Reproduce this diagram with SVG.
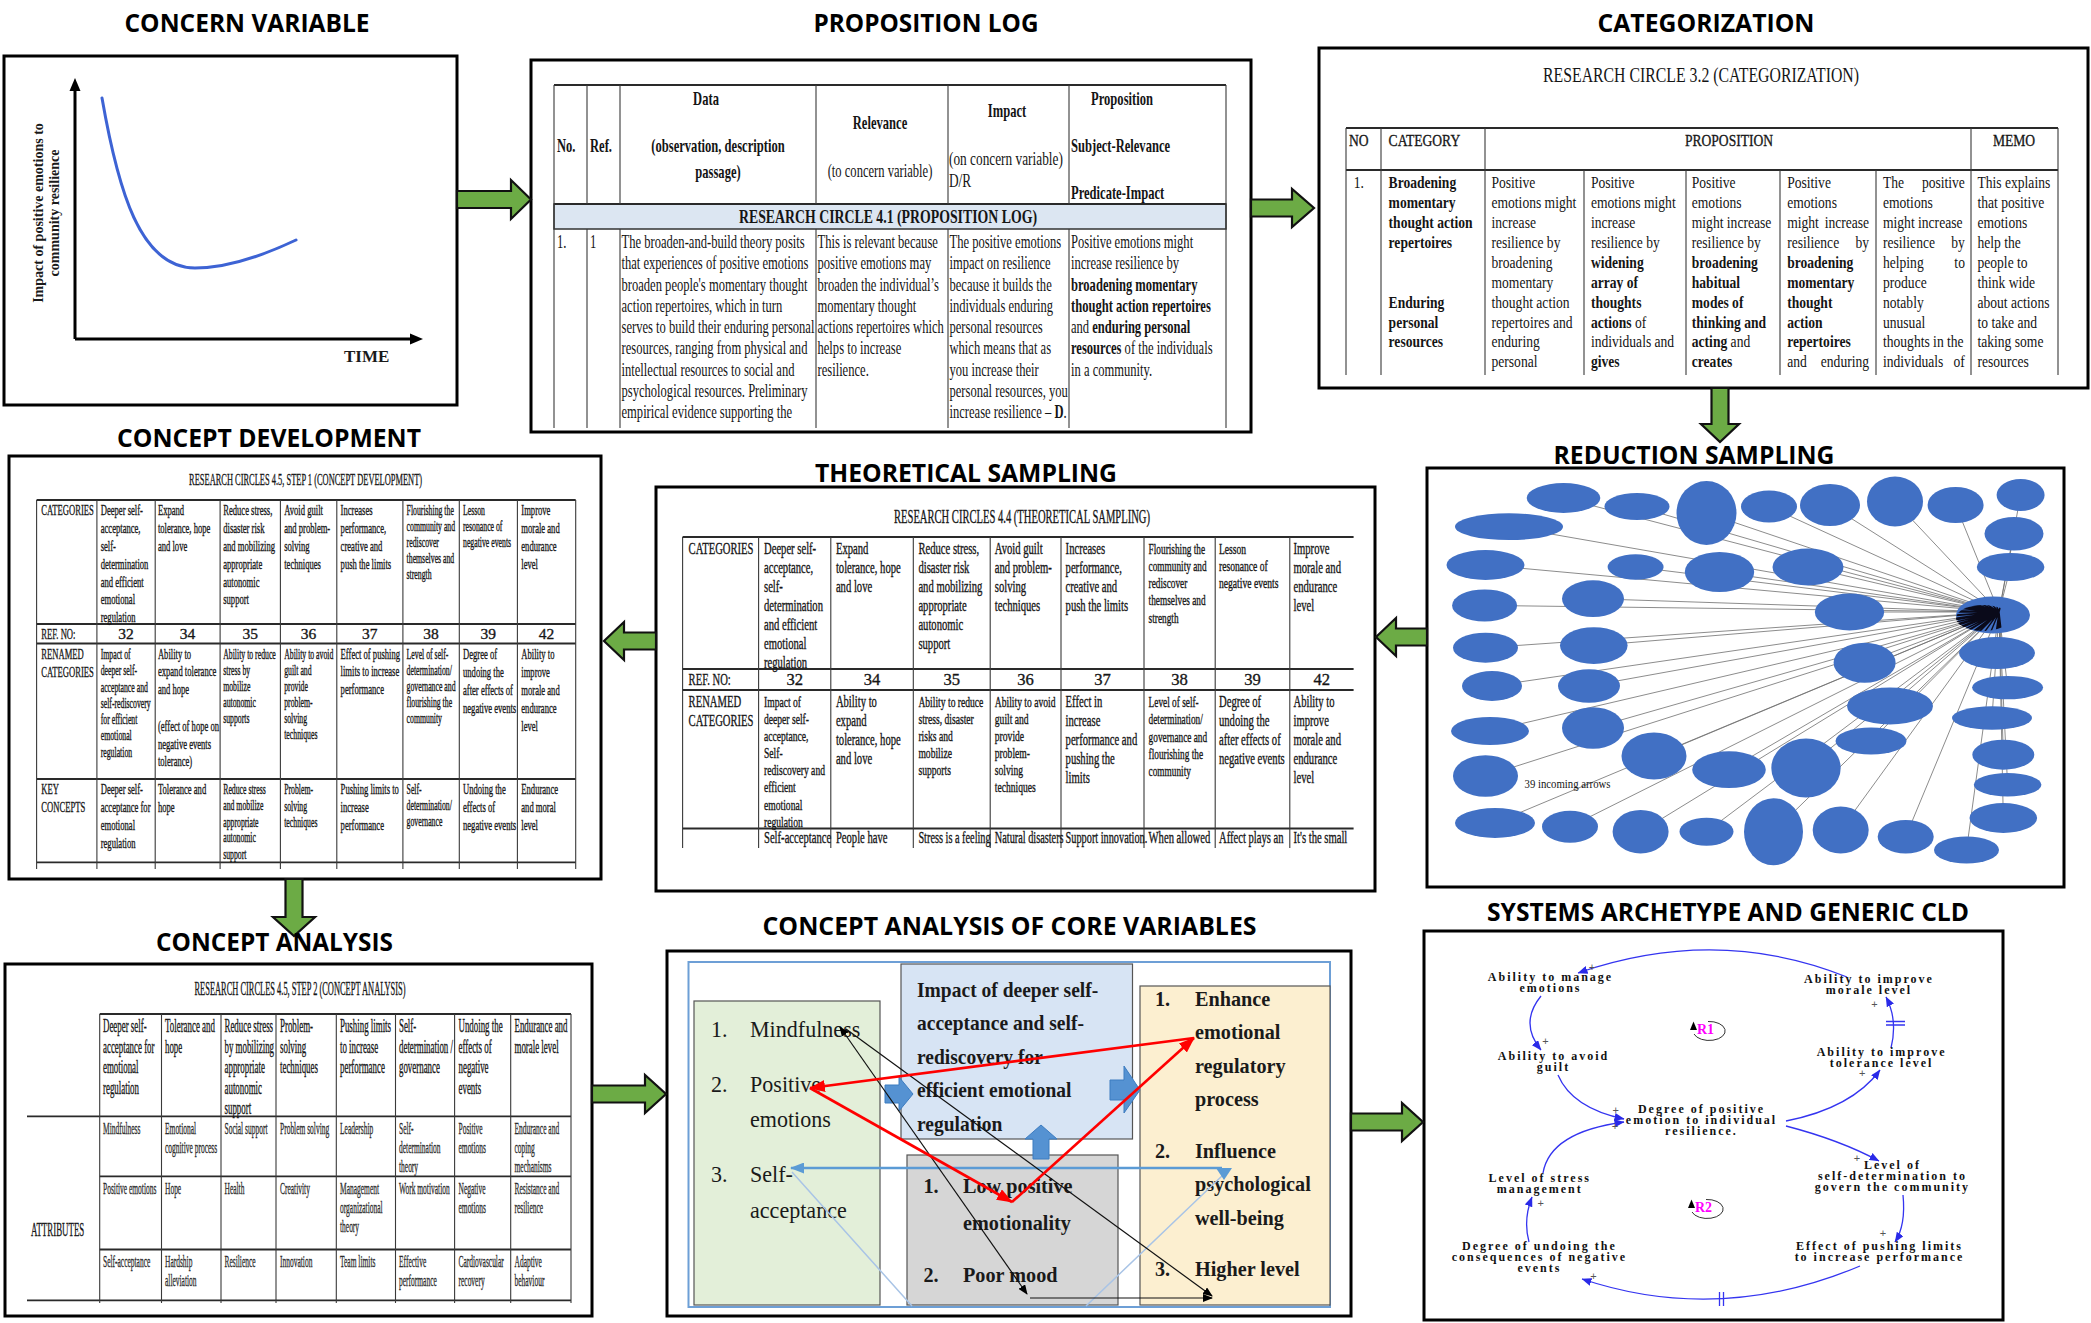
<svg xmlns="http://www.w3.org/2000/svg" width="2091" height="1323" viewBox="0 0 2091 1323">
<defs>
<style>
.frame{fill:#fff;stroke:#000;stroke-width:3}
.ttl{font-family:"Open Sans","Liberation Sans",sans-serif;font-weight:700;font-size:25px;fill:#000;text-anchor:middle}
.flow{fill:#6cab45;stroke:#111;stroke-width:2.2}
.g{stroke:#3a3a3a;stroke-width:1.1;fill:none}
.gb{stroke:#2a2a2a;stroke-width:1.8;fill:none}
.s{font-family:"Liberation Serif","Times New Roman",serif;fill:#151515}
.hv text{stroke:#1a1a1a;stroke-width:.35}
.b{font-weight:700}
.m{text-anchor:middle}
.p2{font-size:18.5px}
.p3{font-size:17.4px}
.p5{font-size:16.6px}
.p5s{font-size:15px}
.p6{font-size:15.5px}
.p6s{font-size:14px}
.p7{font-size:18.5px}
.p7a{font-size:17px;fill:#3c3c3c}
.oval{fill:#4170c4}
.cv{font-family:"Liberation Serif","Times New Roman",serif;fill:#1a1a1a}
.cld{font-family:"Liberation Serif","Times New Roman",serif;font-weight:700;font-size:12px;letter-spacing:2px;fill:#111;text-anchor:middle}
.lnk{fill:none;stroke:#3434f0;stroke-width:1.3}
.pl{font-family:"Liberation Sans",sans-serif;font-size:11px;fill:#555;text-anchor:middle}
.loop{font-family:"Liberation Serif",serif;font-weight:700;font-size:14px;fill:#ff00ff}
</style>
<marker id="mk-cld" viewBox="0 0 10 8" refX="9.5" refY="4" markerWidth="10" markerHeight="8" markerUnits="userSpaceOnUse" orient="auto"><path d="M0,0 L10,4 L0,8 Z" fill="#2a2ae8"/></marker>
<marker id="mk-red" viewBox="0 0 16 12" refX="15" refY="6" markerWidth="16" markerHeight="12" markerUnits="userSpaceOnUse" orient="auto"><path d="M0,0 L16,6 L0,12 Z" fill="#ff0000"/></marker>
<marker id="mk-blk" viewBox="0 0 10 8" refX="9" refY="4" markerWidth="10" markerHeight="8" markerUnits="userSpaceOnUse" orient="auto-start-reverse"><path d="M0,0 L10,4 L0,8 Z" fill="#000"/></marker>
<marker id="mk-lb" viewBox="0 0 14 11" refX="13" refY="5.5" markerWidth="14" markerHeight="11" markerUnits="userSpaceOnUse" orient="auto-start-reverse"><path d="M0,0 L14,5.5 L0,11 Z" fill="#5b9bd5"/></marker>
<clipPath id="net-clip"><rect x="1430" y="470" width="615" height="415"/></clipPath>
<clipPath id="hub-clip"><ellipse cx="1983" cy="618" rx="27" ry="13"/></clipPath>
<path id="spokeset" fill="none" d="M1563.5 498L1999 612M1637 506.5L1999 612M1706.5 513L1999 612M1769 506.5L1999 612M1830 505L1999 612M1895 501.5L1999 612M1955.6 505L1999 612M2020.6 495L1999 612M1509 526.7L1999 612M1485.5 565L1999 612M1635.6 567L1999 612M1719.5 572L1999 612M1808 567L1999 612M2014 533.8L1999 612M2010.6 567L1999 612M1484.6 605.4L1999 612M1593 598.7L1999 612M1849.5 612L1999 612M1485.5 647.7L1999 612M1593.8 645.6L1999 612M1864.6 662.7L1999 612M2002.4 654L1999 612M1492 686L1999 612M1589 686L1999 612M2007.6 687.6L1999 612M1890 706L1999 612M1490 731L1999 612M1593 728L1999 612M1992 718L1999 612M1871 741L1999 612M1654 756L1999 612M1729 769.7L1999 612M1806 768L1999 612M2003.3 754.7L1999 612M1485.5 776L1999 612M2007.6 784.8L1999 612M1495 823L1999 612M1570 826.7L1999 612M1640.6 831.7L1999 612M1706.5 831.7L1999 612M1773.5 831.7L1999 612M1840.7 830L1999 612M1905.7 836.7L1999 612M2003.3 818L1999 612M1966.5 850L1999 612"/>
</defs>

<rect width="2091" height="1323" fill="#fff"/>

<!-- Concern variable: behaviour-over-time sketch -->
<g id="concern-variable">
<rect class="frame" x="4" y="56" width="453" height="349"/>
<path d="M75,339 V88" stroke="#000" stroke-width="3"/>
<path d="M75,78 L69.5,91 H80.5 Z"/>
<path d="M75,339 H413" stroke="#000" stroke-width="3"/>
<path d="M423,339 L410,333.5 V344.5 Z"/>
<path d="M102,98 C118,190 140,268 195,268 C225,268 260,257 296,240" fill="none" stroke="#3d63d4" stroke-width="3" stroke-linecap="round"/>
<text class="cv b" font-size="14" text-anchor="middle" transform="translate(43,213) rotate(-90)">Impact of positive emotions to</text>
<text class="cv b" font-size="14" text-anchor="middle" transform="translate(59,213) rotate(-90)">community resilience</text>
<text class="cv b" font-size="17" x="344" y="362">TIME</text>
</g>

<!-- Proposition log table -->
<g id="proposition-log">
<rect class="frame" x="531" y="60" width="720" height="372"/>
<rect x="554" y="204" width="672" height="25" fill="#dce6f2" stroke="#333" stroke-width="1.5"/>
<path class="gb" d="M554,85 H1226 M554,204 H1226"/>
<path class="g" d="M554,85 V428 M587,85 V204 M620,85 V204 M816,85 V204 M948,85 V204 M1069,85 V204 M1226,85 V428 M587,229 V428 M620,229 V428 M816,229 V428 M948,229 V428 M1069,229 V428"/>
<text class="s b p2" transform="translate(557,152) scale(.68,1)">No.</text>
<text class="s b p2" transform="translate(590,152) scale(.68,1)">Ref.</text>
<text class="s b p2 m" transform="translate(706,105) scale(.68,1)">Data</text>
<text class="s b p2 m" transform="translate(718,152) scale(.68,1)"><tspan x="0" y="0">(observation, description</tspan><tspan x="0" y="26">passage)</tspan></text>
<text class="s b p2 m" transform="translate(880,129) scale(.68,1)">Relevance</text>
<text class="s p2 m" transform="translate(880,177) scale(.68,1)">(to concern variable)</text>
<text class="s b p2 m" transform="translate(1007,117) scale(.68,1)">Impact</text>
<text class="s p2" transform="translate(949,165) scale(.72,1)"><tspan x="0" y="0">(on concern variable)</tspan><tspan x="0" y="22">D/R</tspan></text>
<text class="s b p2 m" transform="translate(1122,105) scale(.68,1)">Proposition</text>
<text class="s b p2" transform="translate(1071,152) scale(.68,1)"><tspan x="0" y="0">Subject-Relevance</tspan><tspan x="0" y="47">Predicate-Impact</tspan></text>
<text class="s b p2 m" x="888" y="223" textLength="298" lengthAdjust="spacingAndGlyphs">RESEARCH CIRCLE 4.1 (PROPOSITION LOG)</text>
<text class="s p2" transform="translate(557,248) scale(.68,1)">1.</text>
<text class="s p2" transform="translate(590,248) scale(.68,1)">1</text>
<text class="s p2" transform="translate(621.5,248) scale(.68,1)"><tspan x="0" y="0">The broaden-and-build theory posits</tspan><tspan x="0" y="21.3">that experiences of positive emotions</tspan><tspan x="0" y="42.6">broaden people's momentary thought</tspan><tspan x="0" y="63.9">action repertoires, which in turn</tspan><tspan x="0" y="85.2">serves to build their enduring personal</tspan><tspan x="0" y="106.5">resources, ranging from physical and</tspan><tspan x="0" y="127.8">intellectual resources to social and</tspan><tspan x="0" y="149.1">psychological resources. Preliminary</tspan><tspan x="0" y="170.4">empirical evidence supporting the</tspan></text>
<text class="s p2" transform="translate(817.5,248) scale(.68,1)"><tspan x="0" y="0">This is relevant because</tspan><tspan x="0" y="21.3">positive emotions may</tspan><tspan x="0" y="42.6">broaden the individual’s</tspan><tspan x="0" y="63.9">momentary thought</tspan><tspan x="0" y="85.2">actions repertoires which</tspan><tspan x="0" y="106.5">helps to increase</tspan><tspan x="0" y="127.8">resilience.</tspan></text>
<text class="s p2" transform="translate(949.5,248) scale(.68,1)"><tspan x="0" y="0">The positive emotions</tspan><tspan x="0" y="21.3">impact on resilience</tspan><tspan x="0" y="42.6">because it builds the</tspan><tspan x="0" y="63.9">individuals enduring</tspan><tspan x="0" y="85.2">personal resources</tspan><tspan x="0" y="106.5">which means that as</tspan><tspan x="0" y="127.8">you increase their</tspan><tspan x="0" y="149.1">personal resources, you</tspan><tspan x="0" y="170.4">increase resilience – <tspan class="b">D</tspan>.</tspan></text>
<text class="s p2" transform="translate(1071,248) scale(.68,1)"><tspan x="0" y="0">Positive emotions might</tspan><tspan x="0" y="21.3">increase resilience by</tspan><tspan x="0" y="42.6" class="b">broadening momentary</tspan><tspan x="0" y="63.9" class="b">thought action repertoires</tspan><tspan x="0" y="85.2">and <tspan class="b">enduring personal</tspan></tspan><tspan x="0" y="106.5"><tspan class="b">resources</tspan> of the individuals</tspan><tspan x="0" y="127.8">in a community.</tspan></text>
</g>

<!-- Categorization table -->
<g id="categorization">
<rect class="frame" x="1319" y="48" width="769" height="340"/>
<text class="s m" font-size="21" x="1701" y="82" textLength="316" lengthAdjust="spacingAndGlyphs">RESEARCH CIRCLE 3.2 (CATEGORIZATION)</text>
<path class="gb" d="M1346,128 H2058 M1346,170 H2058"/>
<path class="g" d="M1346,128 V375 M1381,128 V375 M1485,128 V375 M1971,128 V375 M2058,128 V375 M1584,170 V375 M1686,170 V375 M1780,170 V375 M1876,170 V375"/>
<g class="hv">
<text class="s p3" transform="translate(1349,146) scale(.78,1)">NO</text>
<text class="s p3" transform="translate(1388.6,146) scale(.78,1)">CATEGORY</text>
<text class="s p3 m" transform="translate(1729,146) scale(.78,1)">PROPOSITION</text>
<text class="s p3 m" transform="translate(2014,146) scale(.78,1)">MEMO</text>
</g>
<text class="s p3" transform="translate(1353.8,188) scale(.78,1)">1.</text>
<text class="s p3 b" transform="translate(1388.6,188) scale(.78,1)"><tspan x="0" y="0">Broadening</tspan><tspan x="0" y="19.9">momentary</tspan><tspan x="0" y="39.9">thought action</tspan><tspan x="0" y="59.8">repertoires</tspan><tspan x="0" y="119.6">Enduring</tspan><tspan x="0" y="139.6">personal</tspan><tspan x="0" y="159.5">resources</tspan></text>
<text class="s p3" transform="translate(1491.5,188) scale(.78,1)"><tspan x="0" y="0">Positive</tspan><tspan x="0" y="19.9">emotions might</tspan><tspan x="0" y="39.9">increase</tspan><tspan x="0" y="59.8">resilience by</tspan><tspan x="0" y="79.8">broadening</tspan><tspan x="0" y="99.7">momentary</tspan><tspan x="0" y="119.6">thought action</tspan><tspan x="0" y="139.6">repertoires and</tspan><tspan x="0" y="159.5">enduring</tspan><tspan x="0" y="179.5">personal</tspan></text>
<text class="s p3" transform="translate(1590.9,188) scale(.78,1)"><tspan x="0" y="0">Positive</tspan><tspan x="0" y="19.9">emotions might</tspan><tspan x="0" y="39.9">increase</tspan><tspan x="0" y="59.8">resilience by</tspan><tspan x="0" y="79.8" class="b">widening</tspan><tspan x="0" y="99.7" class="b">array of</tspan><tspan x="0" y="119.6" class="b">thoughts</tspan><tspan x="0" y="139.6"><tspan class="b">actions</tspan> of</tspan><tspan x="0" y="159.5">individuals and</tspan><tspan x="0" y="179.5" class="b">gives</tspan></text>
<text class="s p3" transform="translate(1691.8,188) scale(.78,1)"><tspan x="0" y="0">Positive</tspan><tspan x="0" y="19.9">emotions</tspan><tspan x="0" y="39.9">might increase</tspan><tspan x="0" y="59.8">resilience by</tspan><tspan x="0" y="79.8" class="b">broadening</tspan><tspan x="0" y="99.7" class="b">habitual</tspan><tspan x="0" y="119.6" class="b">modes of</tspan><tspan x="0" y="139.6" class="b">thinking and</tspan><tspan x="0" y="159.5"><tspan class="b">acting</tspan> and</tspan><tspan x="0" y="179.5" class="b">creates</tspan></text>
<text class="s p3" transform="translate(1787.2,188) scale(.78,1)"><tspan x="0" y="0">Positive</tspan><tspan x="0" y="19.9">emotions</tspan><tspan x="0" y="39.9">might</tspan><tspan x="48" y="39.9">increase</tspan><tspan x="0" y="59.8">resilience</tspan><tspan x="87.6" y="59.8">by</tspan><tspan x="0" y="79.8" class="b">broadening</tspan><tspan x="0" y="99.7" class="b">momentary</tspan><tspan x="0" y="119.6" class="b">thought</tspan><tspan x="0" y="139.6" class="b">action</tspan><tspan x="0" y="159.5" class="b">repertoires</tspan><tspan x="0" y="179.5">and</tspan><tspan x="43.1" y="179.5">enduring</tspan></text>
<text class="s p3" transform="translate(1883,188) scale(.78,1)"><tspan x="0" y="0">The</tspan><tspan x="49.9" y="0">positive</tspan><tspan x="0" y="19.9">emotions</tspan><tspan x="0" y="39.9">might increase</tspan><tspan x="0" y="59.8">resilience</tspan><tspan x="87.6" y="59.8">by</tspan><tspan x="0" y="79.8">helping</tspan><tspan x="91.5" y="79.8">to</tspan><tspan x="0" y="99.7">produce</tspan><tspan x="0" y="119.6">notably</tspan><tspan x="0" y="139.6">unusual</tspan><tspan x="0" y="159.5">thoughts in the</tspan><tspan x="0" y="179.5">individuals</tspan><tspan x="90.5" y="179.5">of</tspan></text>
<text class="s p3" transform="translate(1977.5,188) scale(.78,1)"><tspan x="0" y="0">This explains</tspan><tspan x="0" y="19.9">that positive</tspan><tspan x="0" y="39.9">emotions</tspan><tspan x="0" y="59.8">help the</tspan><tspan x="0" y="79.8">people to</tspan><tspan x="0" y="99.7">think wide</tspan><tspan x="0" y="119.6">about actions</tspan><tspan x="0" y="139.6">to take and</tspan><tspan x="0" y="159.5">taking some</tspan><tspan x="0" y="179.5">resources</tspan></text>
</g>

<!-- Reduction sampling network -->
<g id="reduction-sampling">
<rect class="frame" x="1427" y="468" width="637" height="419"/>
<g clip-path="url(#net-clip)">
<use href="#spokeset" stroke="#6e6e6e" stroke-width=".8"/>
<g class="oval">
<ellipse cx="1563.5" cy="498" rx="36.8" ry="15"/>
<ellipse cx="1637" cy="506.5" rx="32.5" ry="13.4"/>
<ellipse cx="1706.5" cy="513" rx="30" ry="32"/>
<ellipse cx="1769" cy="506.5" rx="28" ry="16"/>
<ellipse cx="1830" cy="505" rx="30" ry="21"/>
<ellipse cx="1895" cy="501.5" rx="28" ry="25"/>
<ellipse cx="1955.6" cy="505" rx="28" ry="18"/>
<ellipse cx="2020.6" cy="495" rx="24" ry="16"/>
<ellipse cx="1509" cy="526.7" rx="54" ry="13.4"/>
<ellipse cx="1485.5" cy="565" rx="39" ry="15"/>
<ellipse cx="1635.6" cy="567" rx="28" ry="12.7"/>
<ellipse cx="1719.5" cy="572" rx="34.7" ry="20"/>
<ellipse cx="1808" cy="567" rx="35.5" ry="18.4"/>
<ellipse cx="2014" cy="533.8" rx="29.5" ry="16.8"/>
<ellipse cx="2010.6" cy="567" rx="33.8" ry="14"/>
<ellipse cx="1484.6" cy="605.4" rx="32.5" ry="16"/>
<ellipse cx="1593" cy="598.7" rx="31" ry="18.4"/>
<ellipse cx="1849.5" cy="612" rx="34.7" ry="18.4"/>
<ellipse cx="1993" cy="615" rx="37" ry="18.4"/>
<ellipse cx="1485.5" cy="647.7" rx="32.5" ry="15"/>
<ellipse cx="1593.8" cy="645.6" rx="33.8" ry="18.4"/>
<ellipse cx="1864.6" cy="662.7" rx="31" ry="20"/>
<ellipse cx="1997" cy="653" rx="38" ry="16"/>
<ellipse cx="1492" cy="686" rx="30" ry="15"/>
<ellipse cx="1589" cy="686" rx="31" ry="16.8"/>
<ellipse cx="2007.6" cy="687.6" rx="35.5" ry="11.7"/>
<ellipse cx="1890" cy="706" rx="43" ry="18.4"/>
<ellipse cx="1490" cy="731" rx="39" ry="14"/>
<ellipse cx="1593" cy="728" rx="31" ry="20.8"/>
<ellipse cx="1992" cy="718" rx="40" ry="11.7"/>
<ellipse cx="1871" cy="741" rx="35.5" ry="13.4"/>
<ellipse cx="1654" cy="756" rx="32.5" ry="23.5"/>
<ellipse cx="1729" cy="769.7" rx="36.8" ry="18.4"/>
<ellipse cx="1806" cy="768" rx="34.7" ry="29.5"/>
<ellipse cx="2003.3" cy="754.7" rx="31" ry="15"/>
<ellipse cx="1485.5" cy="776" rx="32.5" ry="20.8"/>
<ellipse cx="2007.6" cy="784.8" rx="33.8" ry="11.7"/>
<ellipse cx="1495" cy="823" rx="40" ry="15"/>
<ellipse cx="1570" cy="826.7" rx="28" ry="16"/>
<ellipse cx="1640.6" cy="831.7" rx="28" ry="21.8"/>
<ellipse cx="1706.5" cy="831.7" rx="27" ry="14"/>
<ellipse cx="1773.5" cy="831.7" rx="29.5" ry="33.5"/>
<ellipse cx="1840.7" cy="830" rx="28" ry="23.5"/>
<ellipse cx="1905.7" cy="836.7" rx="28" ry="16.8"/>
<ellipse cx="2003.3" cy="818" rx="33.8" ry="15"/>
<ellipse cx="1966.5" cy="850" rx="32.5" ry="13.4"/>
</g>
<use href="#spokeset" stroke="#0a0a1a" stroke-width="1.4" clip-path="url(#hub-clip)"/>
</g>
<text class="s" font-size="12" x="1524.5" y="788" textLength="86" lengthAdjust="spacingAndGlyphs">39 incoming arrows</text>
</g>

<!-- Theoretical sampling table -->
<g id="theoretical-sampling" class="hv">
<rect class="frame" x="656" y="487" width="719" height="404"/>
<text class="s m" font-size="19" x="1022" y="523" textLength="256" lengthAdjust="spacingAndGlyphs">RESEARCH CIRCLES 4.4 (THEORETICAL SAMPLING)</text>
<path class="gb" d="M682.6,537 H1353.6 M682.6,669 H1353.6 M682.6,690 H1353.6 M682.6,828.5 H1353.6"/>
<path class="g" d="M682.6,537 V848 M758.6,537 V848 M830.8,537 V848 M913.3,537 V848 M990.2,537 V848 M1061,537 V848 M1144,537 V848 M1215.2,537 V848 M1289.8,537 V848"/>
<text class="s p5" transform="translate(688.6,553.5) scale(.64,1)">CATEGORIES</text>
<text class="s p5" transform="translate(764,553.5) scale(.64,1)"><tspan x="0" y="0">Deeper self-</tspan><tspan x="0" y="19.1">acceptance,</tspan><tspan x="0" y="38.2">self-</tspan><tspan x="0" y="57.3">determination</tspan><tspan x="0" y="76.4">and efficient</tspan><tspan x="0" y="95.5">emotional</tspan><tspan x="0" y="114.6">regulation</tspan></text>
<text class="s p5" transform="translate(835.9,553.5) scale(.64,1)"><tspan x="0" y="0">Expand</tspan><tspan x="0" y="19.1">tolerance, hope</tspan><tspan x="0" y="38.2">and love</tspan></text>
<text class="s p5" transform="translate(918.4,553.5) scale(.64,1)"><tspan x="0" y="0">Reduce stress,</tspan><tspan x="0" y="19.1">disaster risk</tspan><tspan x="0" y="38.2">and mobilizing</tspan><tspan x="0" y="57.3">appropriate</tspan><tspan x="0" y="76.4">autonomic</tspan><tspan x="0" y="95.5">support</tspan></text>
<text class="s p5" transform="translate(994.8,553.5) scale(.64,1)"><tspan x="0" y="0">Avoid guilt</tspan><tspan x="0" y="19.1">and problem-</tspan><tspan x="0" y="38.2">solving</tspan><tspan x="0" y="57.3">techniques</tspan></text>
<text class="s p5" transform="translate(1065.6,553.5) scale(.64,1)"><tspan x="0" y="0">Increases</tspan><tspan x="0" y="19.1">performance,</tspan><tspan x="0" y="38.2">creative and</tspan><tspan x="0" y="57.3">push the limits</tspan></text>
<text class="s p5s" transform="translate(1148.6,553.5) scale(.62,1)"><tspan x="0" y="0">Flourishing the</tspan><tspan x="0" y="17.3">community and</tspan><tspan x="0" y="34.6">rediscover</tspan><tspan x="0" y="51.9">themselves and</tspan><tspan x="0" y="69.2">strength</tspan></text>
<text class="s p5s" transform="translate(1219,553.5) scale(.64,1)"><tspan x="0" y="0">Lesson</tspan><tspan x="0" y="17.3">resonance of</tspan><tspan x="0" y="34.6">negative events</tspan></text>
<text class="s p5" transform="translate(1293.5,553.5) scale(.64,1)"><tspan x="0" y="0">Improve</tspan><tspan x="0" y="19.1">morale and</tspan><tspan x="0" y="38.2">endurance</tspan><tspan x="0" y="57.3">level</tspan></text>
<text class="s p5" transform="translate(688.6,684.5) scale(.64,1)">REF. NO:</text>
<g class="s p5 m">
<text x="794.7" y="684.5">32</text><text x="872" y="684.5">34</text><text x="951.7" y="684.5">35</text><text x="1025.6" y="684.5">36</text><text x="1102.5" y="684.5">37</text><text x="1179.6" y="684.5">38</text><text x="1252.5" y="684.5">39</text><text x="1321.7" y="684.5">42</text>
</g>
<text class="s p5" transform="translate(688.6,707) scale(.64,1)"><tspan x="0" y="0">RENAMED</tspan><tspan x="0" y="19.1">CATEGORIES</tspan></text>
<text class="s p5s" transform="translate(764,707) scale(.64,1)"><tspan x="0" y="0">Impact of</tspan><tspan x="0" y="17.1">deeper self-</tspan><tspan x="0" y="34.2">acceptance,</tspan><tspan x="0" y="51.3">Self-</tspan><tspan x="0" y="68.4">rediscovery and</tspan><tspan x="0" y="85.5">efficient</tspan><tspan x="0" y="102.6">emotional</tspan><tspan x="0" y="119.7">regulation</tspan></text>
<text class="s p5" transform="translate(835.9,707) scale(.64,1)"><tspan x="0" y="0">Ability to</tspan><tspan x="0" y="19.1">expand</tspan><tspan x="0" y="38.2">tolerance, hope</tspan><tspan x="0" y="57.3">and love</tspan></text>
<text class="s p5s" transform="translate(918.4,707) scale(.64,1)"><tspan x="0" y="0">Ability to reduce</tspan><tspan x="0" y="17.1">stress, disaster</tspan><tspan x="0" y="34.2">risks and</tspan><tspan x="0" y="51.3">mobilize</tspan><tspan x="0" y="68.4">supports</tspan></text>
<text class="s p5s" transform="translate(994.8,707) scale(.64,1)"><tspan x="0" y="0">Ability to avoid</tspan><tspan x="0" y="17.1">guilt and</tspan><tspan x="0" y="34.2">provide</tspan><tspan x="0" y="51.3">problem-</tspan><tspan x="0" y="68.4">solving</tspan><tspan x="0" y="85.5">techniques</tspan></text>
<text class="s p5" transform="translate(1065.6,707) scale(.64,1)"><tspan x="0" y="0">Effect in</tspan><tspan x="0" y="19.1">increase</tspan><tspan x="0" y="38.2">performance and</tspan><tspan x="0" y="57.3">pushing the</tspan><tspan x="0" y="76.4">limits</tspan></text>
<text class="s p5s" transform="translate(1148.6,707) scale(.62,1)"><tspan x="0" y="0">Level of self-</tspan><tspan x="0" y="17.3">determination/</tspan><tspan x="0" y="34.6">governance and</tspan><tspan x="0" y="51.9">flourishing the</tspan><tspan x="0" y="69.2">community</tspan></text>
<text class="s p5" transform="translate(1219,707) scale(.64,1)"><tspan x="0" y="0">Degree of</tspan><tspan x="0" y="19.1">undoing the</tspan><tspan x="0" y="38.2">after effects of</tspan><tspan x="0" y="57.3">negative events</tspan></text>
<text class="s p5" transform="translate(1293.5,707) scale(.64,1)"><tspan x="0" y="0">Ability to</tspan><tspan x="0" y="19.1">improve</tspan><tspan x="0" y="38.2">morale and</tspan><tspan x="0" y="57.3">endurance</tspan><tspan x="0" y="76.4">level</tspan></text>
<text class="s p5" transform="translate(764,843) scale(.64,1)">Self-acceptance</text>
<text class="s p5" transform="translate(835.9,843) scale(.64,1)">People have</text>
<text class="s p5" transform="translate(918.4,843) scale(.62,1)">Stress is a feeling</text>
<text class="s p5" transform="translate(994.8,843) scale(.62,1)">Natural disasters</text>
<text class="s p5" transform="translate(1065.6,843) scale(.62,1)">Support innovation.</text>
<text class="s p5" transform="translate(1148.6,843) scale(.64,1)">When allowed</text>
<text class="s p5" transform="translate(1219,843) scale(.64,1)">Affect plays an</text>
<text class="s p5" transform="translate(1293.5,843) scale(.64,1)">It's the small</text>
</g>

<!-- Concept development table -->
<g id="concept-development" class="hv">
<rect class="frame" x="9" y="456" width="592" height="423"/>
<text class="s m" font-size="17.5" x="305.6" y="485" textLength="233" lengthAdjust="spacingAndGlyphs">RESEARCH CIRCLES 4.5, STEP 1 (CONCEPT DEVELOPMENT)</text>
<path class="gb" d="M36.6,500 H575.7 M36.6,624 H575.7 M36.6,643.5 H575.7 M36.6,779 H575.7 M36.6,862.4 H575.7"/>
<path class="g" d="M36.6,500 V869 M96.9,500 V869 M155.2,500 V869 M220.1,500 V869 M280.4,500 V869 M336.8,500 V869 M402.9,500 V869 M459.3,500 V869 M517.4,500 V869 M575.7,500 V869"/>
<text class="s p6" transform="translate(41.3,515) scale(.555,1)">CATEGORIES</text>
<text class="s p6" transform="translate(100.7,515) scale(.555,1)"><tspan x="0" y="0">Deeper self-</tspan><tspan x="0" y="17.9">acceptance,</tspan><tspan x="0" y="35.8">self-</tspan><tspan x="0" y="53.7">determination</tspan><tspan x="0" y="71.6">and efficient</tspan><tspan x="0" y="89.5">emotional</tspan><tspan x="0" y="107.4">regulation</tspan></text>
<text class="s p6" transform="translate(157.9,515) scale(.555,1)"><tspan x="0" y="0">Expand</tspan><tspan x="0" y="17.9">tolerance, hope</tspan><tspan x="0" y="35.8">and love</tspan></text>
<text class="s p6" transform="translate(223.2,515) scale(.555,1)"><tspan x="0" y="0">Reduce stress,</tspan><tspan x="0" y="17.9">disaster risk</tspan><tspan x="0" y="35.8">and mobilizing</tspan><tspan x="0" y="53.7">appropriate</tspan><tspan x="0" y="71.6">autonomic</tspan><tspan x="0" y="89.5">support</tspan></text>
<text class="s p6" transform="translate(284.2,515) scale(.555,1)"><tspan x="0" y="0">Avoid guilt</tspan><tspan x="0" y="17.9">and problem-</tspan><tspan x="0" y="35.8">solving</tspan><tspan x="0" y="53.7">techniques</tspan></text>
<text class="s p6" transform="translate(340.6,515) scale(.555,1)"><tspan x="0" y="0">Increases</tspan><tspan x="0" y="17.9">performance,</tspan><tspan x="0" y="35.8">creative and</tspan><tspan x="0" y="53.7">push the limits</tspan></text>
<text class="s p6s" transform="translate(406.6,515) scale(.555,1)"><tspan x="0" y="0">Flourishing the</tspan><tspan x="0" y="16">community and</tspan><tspan x="0" y="32">rediscover</tspan><tspan x="0" y="48">themselves and</tspan><tspan x="0" y="64">strength</tspan></text>
<text class="s p6s" transform="translate(463,515) scale(.555,1)"><tspan x="0" y="0">Lesson</tspan><tspan x="0" y="16">resonance of</tspan><tspan x="0" y="32">negative events</tspan></text>
<text class="s p6" transform="translate(521.3,515) scale(.555,1)"><tspan x="0" y="0">Improve</tspan><tspan x="0" y="17.9">morale and</tspan><tspan x="0" y="35.8">endurance</tspan><tspan x="0" y="53.7">level</tspan></text>
<text class="s p6" transform="translate(41.3,638.5) scale(.555,1)">REF. NO:</text>
<g class="s p6 m">
<text x="126" y="638.5">32</text><text x="187.6" y="638.5">34</text><text x="250.2" y="638.5">35</text><text x="308.6" y="638.5">36</text><text x="369.8" y="638.5">37</text><text x="431.1" y="638.5">38</text><text x="488.3" y="638.5">39</text><text x="546.5" y="638.5">42</text>
</g>
<text class="s p6" transform="translate(41.3,659) scale(.555,1)"><tspan x="0" y="0">RENAMED</tspan><tspan x="0" y="17.9">CATEGORIES</tspan></text>
<text class="s p6s" transform="translate(100.7,659) scale(.555,1)"><tspan x="0" y="0">Impact of</tspan><tspan x="0" y="16.3">deeper self-</tspan><tspan x="0" y="32.6">acceptance and</tspan><tspan x="0" y="48.9">self-rediscovery</tspan><tspan x="0" y="65.2">for efficient</tspan><tspan x="0" y="81.5">emotional</tspan><tspan x="0" y="97.8">regulation</tspan></text>
<text class="s p6" transform="translate(157.9,659) scale(.555,1)"><tspan x="0" y="0">Ability to</tspan><tspan x="0" y="17.3">expand tolerance</tspan><tspan x="0" y="35">and hope</tspan><tspan x="0" y="71.6">(effect of hope on</tspan><tspan x="0" y="90">negative events</tspan><tspan x="0" y="107.3">tolerance)</tspan></text>
<text class="s p6s" transform="translate(223.2,659) scale(.555,1)"><tspan x="0" y="0">Ability to reduce</tspan><tspan x="0" y="16">stress by</tspan><tspan x="0" y="32">mobilize</tspan><tspan x="0" y="48">autonomic</tspan><tspan x="0" y="64">supports</tspan></text>
<text class="s p6s" transform="translate(284.2,659) scale(.555,1)"><tspan x="0" y="0">Ability to avoid</tspan><tspan x="0" y="16">guilt and</tspan><tspan x="0" y="32">provide</tspan><tspan x="0" y="48">problem-</tspan><tspan x="0" y="64">solving</tspan><tspan x="0" y="80">techniques</tspan></text>
<text class="s p6" transform="translate(340.6,659) scale(.555,1)"><tspan x="0" y="0">Effect of pushing</tspan><tspan x="0" y="17.3">limits to increase</tspan><tspan x="0" y="35">performance</tspan></text>
<text class="s p6s" transform="translate(406.6,659) scale(.555,1)"><tspan x="0" y="0">Level of self-</tspan><tspan x="0" y="16">determination/</tspan><tspan x="0" y="32">governance and</tspan><tspan x="0" y="48">flourishing the</tspan><tspan x="0" y="64">community</tspan></text>
<text class="s p6" transform="translate(463,659) scale(.555,1)"><tspan x="0" y="0">Degree of</tspan><tspan x="0" y="17.9">undoing the</tspan><tspan x="0" y="35.8">after effects of</tspan><tspan x="0" y="53.7">negative events</tspan></text>
<text class="s p6" transform="translate(521.3,659) scale(.555,1)"><tspan x="0" y="0">Ability to</tspan><tspan x="0" y="17.9">improve</tspan><tspan x="0" y="35.8">morale and</tspan><tspan x="0" y="53.7">endurance</tspan><tspan x="0" y="71.6">level</tspan></text>
<text class="s p6" transform="translate(41.3,794) scale(.555,1)"><tspan x="0" y="0">KEY</tspan><tspan x="0" y="18.3">CONCEPTS</tspan></text>
<text class="s p6" transform="translate(100.7,794) scale(.555,1)"><tspan x="0" y="0">Deeper self-</tspan><tspan x="0" y="18.3">acceptance for</tspan><tspan x="0" y="35.6">emotional</tspan><tspan x="0" y="54.3">regulation</tspan></text>
<text class="s p6" transform="translate(157.9,794) scale(.555,1)"><tspan x="0" y="0">Tolerance and</tspan><tspan x="0" y="18.3">hope</tspan></text>
<text class="s p6s" transform="translate(223.2,794) scale(.555,1)"><tspan x="0" y="0">Reduce stress</tspan><tspan x="0" y="16">and mobilize</tspan><tspan x="0" y="32.6">appropriate</tspan><tspan x="0" y="48.3">autonomic</tspan><tspan x="0" y="65">support</tspan></text>
<text class="s p6s" transform="translate(284.2,794) scale(.555,1)"><tspan x="0" y="0">Problem-</tspan><tspan x="0" y="16.7">solving</tspan><tspan x="0" y="33.3">techniques</tspan></text>
<text class="s p6" transform="translate(340.6,794) scale(.555,1)"><tspan x="0" y="0">Pushing limits to</tspan><tspan x="0" y="18.3">increase</tspan><tspan x="0" y="35.6">performance</tspan></text>
<text class="s p6s" transform="translate(406.6,794) scale(.555,1)"><tspan x="0" y="0">Self-</tspan><tspan x="0" y="16">determination/</tspan><tspan x="0" y="31.6">governance</tspan></text>
<text class="s p6" transform="translate(463,794) scale(.555,1)"><tspan x="0" y="0">Undoing the</tspan><tspan x="0" y="18.3">effects of</tspan><tspan x="0" y="35.6">negative events</tspan></text>
<text class="s p6" transform="translate(521.3,794) scale(.555,1)"><tspan x="0" y="0">Endurance</tspan><tspan x="0" y="18.3">and moral</tspan><tspan x="0" y="35.6">level</tspan></text>
</g>

<!-- Concept analysis table -->
<g id="concept-analysis" class="hv">
<rect class="frame" x="5" y="964" width="587" height="352"/>
<text class="s m" font-size="18" x="300" y="995" textLength="211" lengthAdjust="spacingAndGlyphs">RESEARCH CIRCLES 4.5, STEP 2 (CONCEPT ANALYSIS)</text>
<path class="gb" d="M99.7,1014 H571 M27,1116.4 H571 M99.7,1176.3 H571 M99.7,1249.5 H571 M27,1300.4 H571"/>
<path class="g" d="M99.7,1014 V1303 M161.5,1014 V1303 M221,1014 V1303 M276,1014 V1303 M336.3,1014 V1303 M395.5,1014 V1303 M454.6,1014 V1303 M510.7,1014 V1303 M571,1014 V1303"/>
<text class="s p7" transform="translate(103,1032) scale(.48,1)"><tspan x="0" y="0">Deeper self-</tspan><tspan x="0" y="20.6">acceptance for</tspan><tspan x="0" y="41.2">emotional</tspan><tspan x="0" y="61.8">regulation</tspan></text>
<text class="s p7" transform="translate(165,1032) scale(.48,1)"><tspan x="0" y="0">Tolerance and</tspan><tspan x="0" y="20.6">hope</tspan></text>
<text class="s p7" transform="translate(224.5,1032) scale(.48,1)"><tspan x="0" y="0">Reduce stress</tspan><tspan x="0" y="20.6">by mobilizing</tspan><tspan x="0" y="41.2">appropriate</tspan><tspan x="0" y="61.8">autonomic</tspan><tspan x="0" y="82.4">support</tspan></text>
<text class="s p7" transform="translate(280,1032) scale(.48,1)"><tspan x="0" y="0">Problem-</tspan><tspan x="0" y="20.6">solving</tspan><tspan x="0" y="41.2">techniques</tspan></text>
<text class="s p7" transform="translate(340,1032) scale(.48,1)"><tspan x="0" y="0">Pushing limits</tspan><tspan x="0" y="20.6">to increase</tspan><tspan x="0" y="41.2">performance</tspan></text>
<text class="s p7" transform="translate(399,1032) scale(.48,1)"><tspan x="0" y="0">Self-</tspan><tspan x="0" y="20.6">determination /</tspan><tspan x="0" y="41.2">governance</tspan></text>
<text class="s p7" transform="translate(458.5,1032) scale(.48,1)"><tspan x="0" y="0">Undoing the</tspan><tspan x="0" y="20.6">effects of</tspan><tspan x="0" y="41.2">negative</tspan><tspan x="0" y="61.8">events</tspan></text>
<text class="s p7" transform="translate(514.5,1032) scale(.48,1)"><tspan x="0" y="0">Endurance and</tspan><tspan x="0" y="20.6">morale level</tspan></text>
<text class="s p7" transform="translate(31,1236) scale(.48,1)">ATTRIBUTES</text>
<text class="s p7a" transform="translate(103,1134) scale(.44,1)">Mindfulness</text>
<text class="s p7a" transform="translate(165,1134) scale(.44,1)"><tspan x="0" y="0">Emotional</tspan><tspan x="0" y="19">cognitive process</tspan></text>
<text class="s p7a" transform="translate(224.5,1134) scale(.44,1)">Social support</text>
<text class="s p7a" transform="translate(280,1134) scale(.44,1)">Problem solving</text>
<text class="s p7a" transform="translate(340,1134) scale(.44,1)">Leadership</text>
<text class="s p7a" transform="translate(399,1134) scale(.44,1)"><tspan x="0" y="0">Self-</tspan><tspan x="0" y="19">determination</tspan><tspan x="0" y="38">theory</tspan></text>
<text class="s p7a" transform="translate(458.5,1134) scale(.44,1)"><tspan x="0" y="0">Positive</tspan><tspan x="0" y="19">emotions</tspan></text>
<text class="s p7a" transform="translate(514.5,1134) scale(.44,1)"><tspan x="0" y="0">Endurance and</tspan><tspan x="0" y="19">coping</tspan><tspan x="0" y="38">mechanisms</tspan></text>
<text class="s p7a" transform="translate(103,1194) scale(.44,1)">Positive emotions</text>
<text class="s p7a" transform="translate(165,1194) scale(.44,1)">Hope</text>
<text class="s p7a" transform="translate(224.5,1194) scale(.44,1)">Health</text>
<text class="s p7a" transform="translate(280,1194) scale(.44,1)">Creativity</text>
<text class="s p7a" transform="translate(340,1194) scale(.44,1)"><tspan x="0" y="0">Management</tspan><tspan x="0" y="19">organizational</tspan><tspan x="0" y="38">theory</tspan></text>
<text class="s p7a" transform="translate(399,1194) scale(.44,1)">Work motivation</text>
<text class="s p7a" transform="translate(458.5,1194) scale(.44,1)"><tspan x="0" y="0">Negative</tspan><tspan x="0" y="19">emotions</tspan></text>
<text class="s p7a" transform="translate(514.5,1194) scale(.44,1)"><tspan x="0" y="0">Resistance and</tspan><tspan x="0" y="19">resilience</tspan></text>
<text class="s p7a" transform="translate(103,1267) scale(.44,1)">Self-acceptance</text>
<text class="s p7a" transform="translate(165,1267) scale(.44,1)"><tspan x="0" y="0">Hardship</tspan><tspan x="0" y="19">alleviation</tspan></text>
<text class="s p7a" transform="translate(224.5,1267) scale(.44,1)">Resilience</text>
<text class="s p7a" transform="translate(280,1267) scale(.44,1)">Innovation</text>
<text class="s p7a" transform="translate(340,1267) scale(.44,1)">Team limits</text>
<text class="s p7a" transform="translate(399,1267) scale(.44,1)"><tspan x="0" y="0">Effective</tspan><tspan x="0" y="19">performance</tspan></text>
<text class="s p7a" transform="translate(458.5,1267) scale(.44,1)"><tspan x="0" y="0">Cardiovascular</tspan><tspan x="0" y="19">recovery</tspan></text>
<text class="s p7a" transform="translate(514.5,1267) scale(.44,1)"><tspan x="0" y="0">Adaptive</tspan><tspan x="0" y="19">behaviour</tspan></text>
</g>

<!-- Concept analysis of core variables -->
<g id="core-variables">
<rect class="frame" x="667" y="951" width="684" height="365"/>
<rect x="688.5" y="962" width="641.5" height="345" fill="#fff" stroke="#6d9fd6" stroke-width="2"/>
<rect x="694" y="1001" width="186" height="304" fill="#e3efd9" stroke="#555" stroke-width="1.2"/>
<rect x="901" y="964" width="231.5" height="175" fill="#d7e4f4" stroke="#555" stroke-width="1.2"/>
<rect x="907" y="1155" width="211" height="150" fill="#d6d6d6" stroke="#555" stroke-width="1.2"/>
<rect x="1140" y="986" width="190" height="319" fill="#fcefd0" stroke="#555" stroke-width="1.2"/>
<path d="M885,1085 H899 V1077 L913,1094 L899,1111 V1103 H885 Z" fill="#5592d2" stroke="#3d7cc0"/>
<path d="M1110,1080 H1124 V1066 L1140,1090 L1124,1113 V1100 H1110 Z" fill="#5592d2" stroke="#3d7cc0"/>
<path d="M1033,1159 V1139 H1025 L1041,1125 L1057,1139 H1049 V1159 Z" fill="#5592d2" stroke="#3d7cc0"/>
<g class="cv" font-size="24">
<text transform="translate(711,1037) scale(.92,1)">1.</text>
<text transform="translate(750,1037) scale(.92,1)">Mindfulness</text>
<text transform="translate(711,1092) scale(.92,1)">2.</text>
<text transform="translate(750,1092) scale(.92,1)"><tspan x="0" y="0">Positive</tspan><tspan x="0" y="35">emotions</tspan></text>
<text transform="translate(711,1182) scale(.92,1)">3.</text>
<text transform="translate(750,1182) scale(.92,1)"><tspan x="0" y="0">Self-</tspan><tspan x="0" y="36">acceptance</tspan></text>
</g>
<text class="cv b" font-size="21" transform="translate(917,997) scale(.93,1)"><tspan x="0" y="0">Impact of deeper self-</tspan><tspan x="0" y="33.4">acceptance and self-</tspan><tspan x="0" y="66.8">rediscovery for</tspan><tspan x="0" y="100.2">efficient emotional</tspan><tspan x="0" y="133.6">regulation</tspan></text>
<g class="cv b" font-size="22">
<text transform="translate(1155,1006) scale(.92,1)">1.</text>
<text transform="translate(1195,1006) scale(.92,1)"><tspan x="0" y="0">Enhance</tspan><tspan x="0" y="33.5">emotional</tspan><tspan x="0" y="67">regulatory</tspan><tspan x="0" y="100">process</tspan></text>
<text transform="translate(1155,1158) scale(.92,1)">2.</text>
<text transform="translate(1195,1158) scale(.92,1)"><tspan x="0" y="0">Influence</tspan><tspan x="0" y="33.5">psychological</tspan><tspan x="0" y="67">well-being</tspan></text>
<text transform="translate(1155,1276) scale(.92,1)">3.</text>
<text transform="translate(1195,1276) scale(.92,1)">Higher level</text>
<text transform="translate(923.5,1193) scale(.92,1)">1.</text>
<text transform="translate(963,1193) scale(.92,1)"><tspan x="0" y="0">Low positive</tspan><tspan x="0" y="37">emotionality</tspan></text>
<text transform="translate(923.5,1282) scale(.92,1)">2.</text>
<text transform="translate(963,1282) scale(.92,1)">Poor mood</text>
</g>
<path d="M792,1172 L912,1306 M1086,1306 L1223,1175" stroke="#a9c4e6" stroke-width="1.5" fill="none"/>
<path d="M791,1168 H1222" stroke="#5b9bd5" stroke-width="2.5" fill="none" marker-start="url(#mk-lb)"/>
<path d="M1216,1168 L1232,1168 L1224,1180 Z" fill="#5b9bd5"/>
<g stroke="#111" stroke-width="1.2" fill="none">
<path d="M840,1027 L1027,1294" marker-start="url(#mk-blk)" marker-end="url(#mk-blk)"/>
<path d="M846,1029 L1212,1296" marker-end="url(#mk-blk)"/>
<path d="M1030,1298 H1212" marker-end="url(#mk-blk)"/>
</g>
<g stroke="#ff0000" stroke-width="2.6" fill="none">
<path d="M1194,1038 L810,1088" marker-end="url(#mk-red)"/>
<path d="M810,1088 L1012,1202" marker-end="url(#mk-red)"/>
<path d="M1012,1202 L1194,1038" marker-end="url(#mk-red)"/>
</g>
</g>

<!-- Systems archetype / causal loop diagram -->
<g id="systems-archetype">
<rect class="frame" x="1424" y="931" width="579" height="389"/>
<g class="lnk">
<path d="M1847,977 Q1717,925 1578,973" marker-end="url(#mk-cld)"/>
<path d="M1541,996 Q1519,1023 1541,1050" marker-end="url(#mk-cld)"/>
<path d="M1558,1075 Q1572,1108 1624,1119" marker-end="url(#mk-cld)"/>
<path d="M1543,1173 Q1550,1132 1624,1122" marker-end="url(#mk-cld)"/>
<path d="M1786,1121 Q1852,1108 1880,1070" marker-end="url(#mk-cld)"/>
<path d="M1891,1048 Q1898,1020 1886,997" marker-end="url(#mk-cld)"/>
<path d="M1786,1126 Q1840,1140 1879,1161" marker-end="url(#mk-cld)"/>
<path d="M1903,1195 Q1906,1225 1895,1242" marker-end="url(#mk-cld)"/>
<path d="M1860,1266 Q1720,1325 1582,1279" marker-end="url(#mk-cld)"/>
<path d="M1529,1242 Q1523,1220 1532,1197" marker-end="url(#mk-cld)"/>
<path d="M1886,1021.5 H1905 M1886,1025 H1905 M1719.5,1292 V1306 M1723.5,1292 V1306"/>
</g>
<g id="cld-nodes">
<text class="cld"><tspan x="1550.5" y="981">Ability to manage</tspan><tspan x="1550.5" y="992">emotions</tspan></text>
<text class="cld"><tspan x="1869" y="983">Ability to improve</tspan><tspan x="1869" y="994">morale level</tspan></text>
<text class="cld"><tspan x="1553.5" y="1059.5">Ability to avoid</tspan><tspan x="1553.5" y="1070.5">guilt</tspan></text>
<text class="cld"><tspan x="1881.6" y="1055.5">Ability to improve</tspan><tspan x="1881.6" y="1066.5">tolerance level</tspan></text>
<text class="cld"><tspan x="1701.5" y="1113">Degree of positive</tspan><tspan x="1701.5" y="1124">emotion to individual</tspan><tspan x="1701.5" y="1135">resilience.</tspan></text>
<text class="cld"><tspan x="1539.8" y="1181.5">Level of stress</tspan><tspan x="1539.8" y="1192.5">management</tspan></text>
<text class="cld"><tspan x="1892.4" y="1169">Level of</tspan><tspan x="1892.4" y="1180">self-determination to</tspan><tspan x="1892.4" y="1191">govern the community</tspan></text>
<text class="cld"><tspan x="1539.4" y="1249.5">Degree of undoing the</tspan><tspan x="1539.4" y="1260.5">consequences of negative</tspan><tspan x="1539.4" y="1271.5">events</tspan></text>
<text class="cld"><tspan x="1879.5" y="1250">Effect of pushing limits</tspan><tspan x="1879.5" y="1261">to increase performance</tspan></text>
</g>
<g class="pl">
<text x="1592" y="971">+</text><text x="1545.5" y="1045">+</text><text x="1615.7" y="1113.5">+</text><text x="1615" y="1129.5">+</text><text x="1874.4" y="1008">+</text><text x="1862.3" y="1076.5">+</text><text x="1857" y="1162">+</text><text x="1883" y="1237">+</text><text x="1593.4" y="1280">+</text><text x="1540.7" y="1206.5">+</text>
</g>
<path d="M1694,1034 A16,9.5 0 1 0 1708,1021.5" fill="none" stroke="#333" stroke-width="1"/>
<path d="M1693.5,1021.5 L1690,1030 H1697 Z" fill="#000"/>
<text class="loop" x="1697" y="1033.5">R1</text>
<path d="M1692,1212 A16,9.5 0 1 0 1706,1199.5" fill="none" stroke="#333" stroke-width="1"/>
<path d="M1691.5,1199.5 L1688,1208 H1695 Z" fill="#000"/>
<text class="loop" x="1695" y="1211.5">R2</text>
</g>

<!-- Flow between stages -->
<g id="connectors">
<path class="flow" d="M457,191 H511 V180 L531,199.5 L511,219 V208 H457 Z"/>
<path class="flow" d="M1251,199.5 H1292 V189 L1314,208 L1292,227 V216.5 H1251 Z"/>
<path class="flow" d="M1711.5,388 V424 H1701 L1720,442 L1739,424 H1728.5 V388 Z"/>
<path class="flow" d="M1427,628.5 H1396 V618 L1376,637 L1396,656 V645.5 H1427 Z"/>
<path class="flow" d="M656,632.5 H624 V622 L604,641 L624,660 V649.5 H656 Z"/>
<path class="flow" d="M285.5,879 V917 H273 L294,936 L315,917 H302.5 V879 Z"/>
<path class="flow" d="M592,1085.5 H645 V1075 L666,1094 L645,1113 V1102.5 H592 Z"/>
<path class="flow" d="M1351,1113.5 H1402 V1103 L1423,1122 L1402,1141 V1130.5 H1351 Z"/>
</g>

<!-- Stage titles -->
<g id="titles" class="ttl">
<text x="247" y="32" textLength="245" lengthAdjust="spacingAndGlyphs">CONCERN VARIABLE</text>
<text x="926" y="32" textLength="225" lengthAdjust="spacingAndGlyphs">PROPOSITION LOG</text>
<text x="1706" y="32" textLength="217" lengthAdjust="spacingAndGlyphs">CATEGORIZATION</text>
<text x="269" y="447" textLength="304" lengthAdjust="spacingAndGlyphs">CONCEPT DEVELOPMENT</text>
<text x="966" y="482" textLength="302" lengthAdjust="spacingAndGlyphs">THEORETICAL SAMPLING</text>
<text x="1694" y="464" textLength="281" lengthAdjust="spacingAndGlyphs">REDUCTION SAMPLING</text>
<text x="274.5" y="951" textLength="237" lengthAdjust="spacingAndGlyphs">CONCEPT ANALYSIS</text>
<text x="1009.5" y="935" textLength="494" lengthAdjust="spacingAndGlyphs">CONCEPT ANALYSIS OF CORE VARIABLES</text>
<text x="1728" y="921" textLength="482" lengthAdjust="spacingAndGlyphs">SYSTEMS ARCHETYPE AND GENERIC CLD</text>
</g>
</svg>
